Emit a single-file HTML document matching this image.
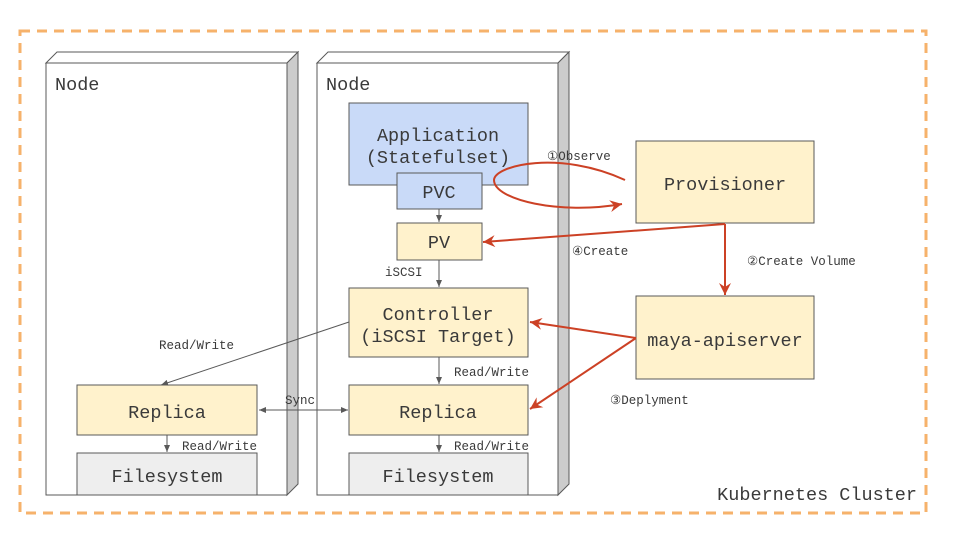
<!DOCTYPE html>
<html><head><style>body{margin:0;background:#fff}svg{display:block}text{font-family:"Liberation Mono",monospace;fill:#3a3a3a}</style></head><body>
<svg width="960" height="540" viewBox="0 0 960 540" xmlns="http://www.w3.org/2000/svg">
<defs>
<marker id="g" markerWidth="8" markerHeight="8" refX="7" refY="4" orient="auto" markerUnits="userSpaceOnUse"><path d="M0,1 L7,4 L0,7 Z" fill="#595959"/></marker>
<marker id="gs" markerWidth="8" markerHeight="8" refX="1" refY="4" orient="auto" markerUnits="userSpaceOnUse"><path d="M8,1 L1,4 L8,7 Z" fill="#595959"/></marker>
<marker id="r" markerWidth="14" markerHeight="12" refX="12" refY="6" orient="auto" markerUnits="userSpaceOnUse"><path d="M0,0 L12,6 L0,12 L4,6 Z" fill="#cc4125"/></marker>
</defs>
<rect x="20" y="31" width="906" height="482" fill="none" stroke="#f6b26b" stroke-width="3" stroke-dasharray="10,7"/>
<text x="917" y="500" font-size="18.5" text-anchor="end">Kubernetes Cluster</text>
<g stroke="#595959" stroke-width="1">
<path d="M46,63 L57,52 L298,52 L287,63 Z" fill="#fff"/>
<path d="M287,63 L298,52 L298,484 L287,495 Z" fill="#ccc"/>
<rect x="46" y="63" width="241" height="432" fill="#fff"/>
<path d="M317,63 L328,52 L569,52 L558,63 Z" fill="#fff"/>
<path d="M558,63 L569,52 L569,484 L558,495 Z" fill="#ccc"/>
<rect x="317" y="63" width="241" height="432" fill="#fff"/>
</g>
<text x="55" y="90" font-size="18.5">Node</text>
<text x="326" y="90" font-size="18.5">Node</text>
<g stroke="#595959" stroke-width="1">
<rect x="349" y="103" width="179" height="82" fill="#c9daf8"/>
<rect x="397" y="173" width="85" height="36" fill="#c9daf8"/>
<rect x="397" y="223" width="85" height="37" fill="#fff2cc"/>
<rect x="349" y="288" width="179" height="69" fill="#fff2cc"/>
<rect x="349" y="385" width="179" height="50" fill="#fff2cc"/>
<rect x="349" y="453" width="179" height="42" fill="#eeeeee"/>
<rect x="77" y="385" width="180" height="50" fill="#fff2cc"/>
<rect x="77" y="453" width="180" height="42" fill="#eeeeee"/>
<rect x="636" y="141" width="178" height="82" fill="#fff2cc"/>
<rect x="636" y="296" width="178" height="83" fill="#fff2cc"/>
</g>
<g font-size="18.5" text-anchor="middle">
<text x="438" y="141">Application</text>
<text x="438" y="163">(Statefulset)</text>
<text x="439" y="198">PVC</text>
<text x="439" y="248">PV</text>
<text x="438" y="320">Controller</text>
<text x="438" y="342">(iSCSI Target)</text>
<text x="438" y="418">Replica</text>
<text x="438" y="482">Filesystem</text>
<text x="167" y="418">Replica</text>
<text x="167" y="482">Filesystem</text>
<text x="725" y="190">Provisioner</text>
<text x="725" y="346">maya-apiserver</text>
</g>
<g stroke="#595959" stroke-width="1" fill="none">
<line x1="439" y1="209" x2="439" y2="222" marker-end="url(#g)"/>
<line x1="439" y1="260" x2="439" y2="287" marker-end="url(#g)"/>
<line x1="439" y1="357" x2="439" y2="384" marker-end="url(#g)"/>
<line x1="439" y1="435" x2="439" y2="452" marker-end="url(#g)"/>
<line x1="167" y1="435" x2="167" y2="452" marker-end="url(#g)"/>
<line x1="349" y1="322" x2="161" y2="385" marker-end="url(#g)"/>
<line x1="259" y1="410" x2="348" y2="410" marker-start="url(#gs)" marker-end="url(#g)"/>
</g>
<g font-size="12.5" fill="#595959">
<text x="385" y="276">iSCSI</text>
<text x="159" y="349">Read/Write</text>
<text x="454" y="376">Read/Write</text>
<text x="454" y="450">Read/Write</text>
<text x="182" y="450">Read/Write</text>
<text x="285" y="404">Sync</text>
<text x="547" y="160">①Observe</text>
<text x="572" y="255">④Create</text>
<text x="747" y="265">②Create Volume</text>
<text x="610" y="404">③Deplyment</text>
</g>
<g stroke="#cc4125" stroke-width="2" fill="none">
<path d="M625,180 C560,150 495,165 494,180 C494,200 560,215 622,204" marker-end="url(#r)"/>
<polyline points="725,224 483,242" marker-end="url(#r)"/>
<line x1="725" y1="224" x2="725" y2="295" marker-end="url(#r)"/>
<line x1="636" y1="338" x2="530" y2="322" marker-end="url(#r)"/>
<line x1="636" y1="338" x2="530" y2="409" marker-end="url(#r)"/>
</g>
</svg>
</body></html>
